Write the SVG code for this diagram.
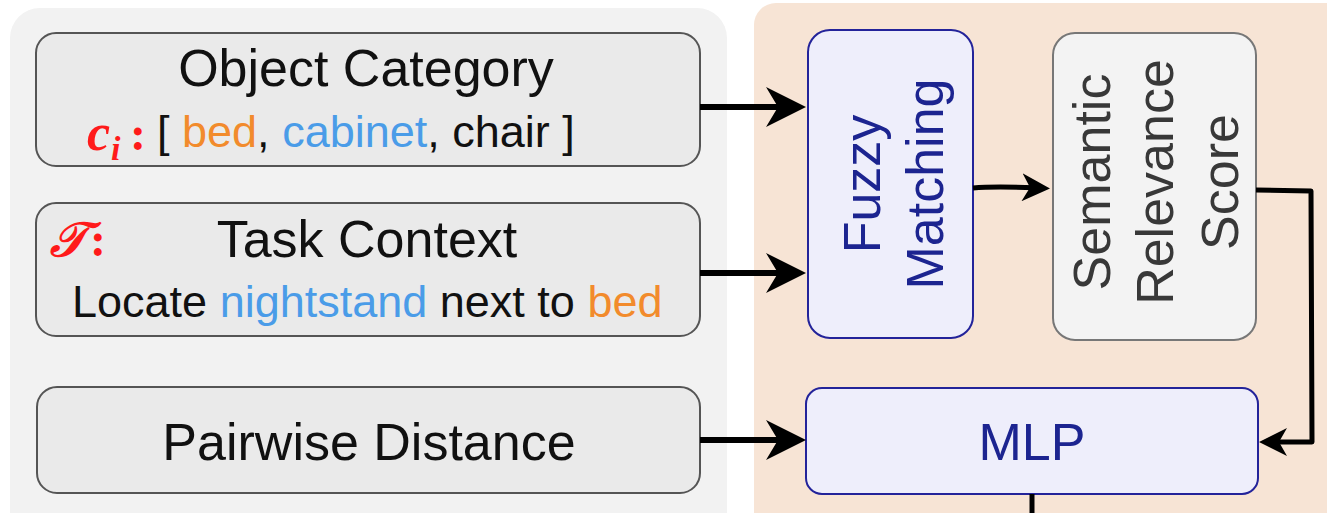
<svg xmlns="http://www.w3.org/2000/svg" width="1327" height="513" viewBox="0 0 1327 513">
  <defs>
    <style>
      .lbl { font-family: "Liberation Sans", Arial, sans-serif; font-size: 52px; fill: #111; }
      .sub { font-family: "Liberation Sans", Arial, sans-serif; font-size: 45px; fill: #111; }
      .math { font-family: "Liberation Serif", "Times New Roman", serif; font-weight: bold; font-style: italic; fill: #ff1a1a; }
      .colon { font-family: "Liberation Serif", "Times New Roman", serif; font-weight: bold; font-style: normal; fill: #ff1a1a; font-size: 48px; }
      .in-box { fill: #eaeaea; stroke: #555; stroke-width: 2; }
      .op-box { fill: #eeeefb; stroke: #23239a; stroke-width: 2; }
      .gray-box { fill: #f3f3f3; stroke: #777; stroke-width: 2; }
      .blue-txt { fill: #1c2490; }
      .gray-txt { fill: #383838; }
      .orange { fill: #f28b2c; }
      .sky { fill: #4a9ce8; }
      .conn { fill: none; stroke: #000; stroke-linejoin: round; }
    </style>
    <marker id="bigHead" markerUnits="userSpaceOnUse" viewBox="0 0 40 40" refX="26" refY="20" markerWidth="40" markerHeight="40" orient="auto">
      <path d="M0,0 L40,20 L0,40 L12,20 Z" fill="#000"/>
    </marker>
    <marker id="smallHead" markerUnits="userSpaceOnUse" viewBox="0 0 28 28" refX="18" refY="14" markerWidth="28" markerHeight="28" orient="auto">
      <path d="M0,0 L28,14 L0,28 L8,14 Z" fill="#000"/>
    </marker>
  </defs>

  <!-- panels -->
  <rect x="10" y="8" width="717" height="540" rx="30" fill="#f2f2f2"/>
  <rect x="754" y="3" width="600" height="545" rx="22" fill="#f7e4d5"/>

  <!-- input: object category -->
  <g id="object-category">
    <rect class="in-box" x="36" y="33" width="664" height="133" rx="20"/>
    <text class="lbl" x="366" y="86" text-anchor="middle">Object Category</text>
    <text class="math" x="87" y="150" font-size="52">c</text>
    <text class="math" x="111" y="160" font-size="34">i</text>
    <text class="colon" x="130" y="150">:</text>
    <text class="sub" x="157" y="147">[ <tspan class="orange">bed</tspan>, <tspan class="sky">cabinet</tspan>, chair ]</text>
  </g>

  <!-- input: task context -->
  <g id="task-context">
    <rect class="in-box" x="36" y="203" width="664" height="133" rx="20"/>
    <text class="math" x="50" y="256" font-size="48">𝒯</text>
    <text class="colon" x="90" y="256">:</text>
    <text class="lbl" x="367" y="257" text-anchor="middle">Task Context</text>
    <text class="sub" x="72" y="317">Locate <tspan class="sky">nightstand</tspan> next to <tspan class="orange">bed</tspan></text>
  </g>

  <!-- input: pairwise distance -->
  <g id="pairwise-distance">
    <rect class="in-box" x="37" y="387" width="663" height="106" rx="20"/>
    <text class="lbl" x="369" y="460" text-anchor="middle">Pairwise Distance</text>
  </g>

  <!-- fuzzy matching -->
  <g id="fuzzy-matching">
    <rect class="op-box" x="808" y="30" width="165" height="308" rx="22"/>
    <g transform="translate(880,184) rotate(-90)">
      <text class="lbl blue-txt" x="0" y="0" text-anchor="middle">Fuzzy</text>
      <text class="lbl blue-txt" x="0" y="63" text-anchor="middle">Matching</text>
    </g>
  </g>

  <!-- semantic relevance score -->
  <g id="semantic-relevance-score">
    <rect class="gray-box" x="1053" y="33" width="203" height="307" rx="22"/>
    <g transform="translate(1110,182) rotate(-90)">
      <text class="lbl gray-txt" x="0" y="0" text-anchor="middle">Semantic</text>
      <text class="lbl gray-txt" x="0" y="63" text-anchor="middle">Relevance</text>
      <text class="lbl gray-txt" x="0" y="128" text-anchor="middle">Score</text>
    </g>
  </g>

  <!-- mlp -->
  <g id="mlp">
    <rect class="op-box" x="806" y="388" width="452" height="106" rx="16"/>
    <text class="lbl blue-txt" x="1032" y="460" text-anchor="middle">MLP</text>
  </g>

  <!-- connectors -->
  <g id="connectors">
    <line class="conn" x1="700" y1="107" x2="792" y2="107" stroke-width="6" marker-end="url(#bigHead)"/>
    <line class="conn" x1="700" y1="273" x2="792" y2="273" stroke-width="6" marker-end="url(#bigHead)"/>
    <line class="conn" x1="700" y1="440" x2="792" y2="440" stroke-width="6" marker-end="url(#bigHead)"/>
    <path class="conn" d="M973,188 C995,186 1015,187 1040,188" stroke-width="5" marker-end="url(#smallHead)"/>
    <path class="conn" d="M1256,190 L1311,191 L1312,442 L1269,442" stroke-width="5" marker-end="url(#smallHead)"/>
    <path class="conn" d="M1032,494 L1032,513" stroke-width="5"/>
  </g>
</svg>
